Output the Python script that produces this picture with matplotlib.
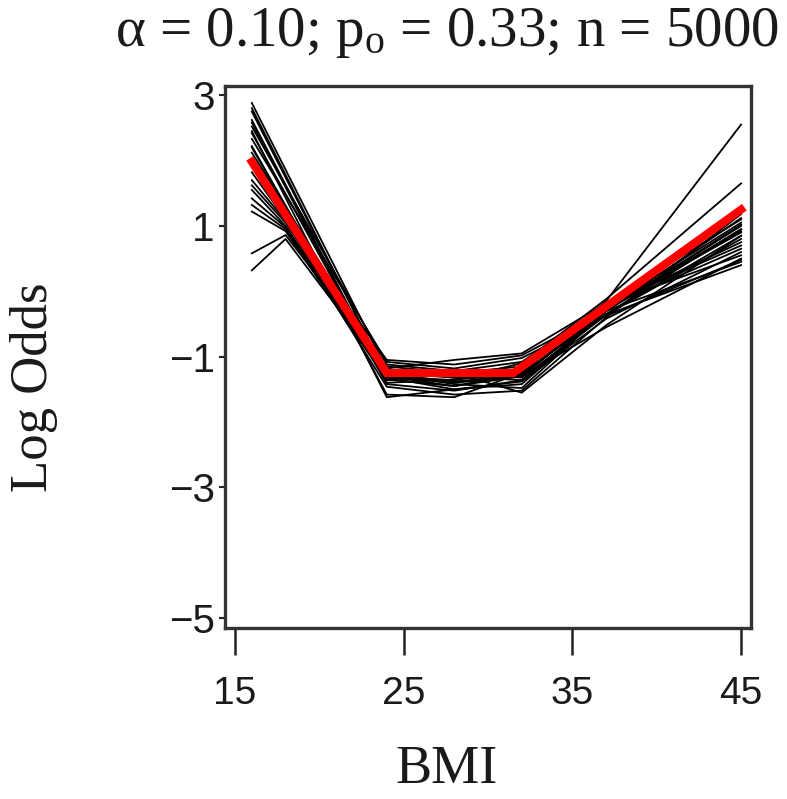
import matplotlib
matplotlib.use('Agg')
import matplotlib.pyplot as plt

# ---------------- data ----------------
knots = [16, 18, 24, 28, 32, 37, 45]

sim_curves = [
    [2.88, 1.86, -1.20, -1.30, -1.20, -0.35, 0.85],
    [2.75, 1.74, -1.28, -1.38, -1.28, -0.30, 0.95],
    [2.62, 1.63, -1.35, -1.45, -1.30, -0.25, 1.05],
    [2.52, 1.61, -1.12, -1.22, -1.08, -0.22, 0.75],
    [2.42, 1.49, -1.32, -1.50, -1.38, -0.42, 0.60],
    [2.33, 1.48, -1.08, -1.18, -1.02, -0.38, 0.48],
    [2.22, 1.31, -1.42, -1.52, -1.36, -0.30, 1.12],
    [2.12, 1.29, -1.22, -1.32, -1.22, -0.26, 0.90],
    [2.02, 1.20, -1.36, -1.26, -1.32, -0.36, 0.80],
    [1.92, 1.16, -1.26, -1.42, -1.48, -0.30, 1.00],
    [1.82, 1.10, -1.30, -1.36, -1.20, -0.20, 0.70],
    [1.70, 1.08, -1.05, -1.12, -0.98, -0.30, 0.45],
    [1.55, 1.00, -1.46, -1.58, -1.52, -0.40, 1.18],
    [1.42, 0.98, -1.22, -1.30, -1.36, -0.36, 0.40],
    [1.32, 0.95, -1.30, -1.40, -1.30, -0.25, 0.65],
    [1.22, 0.92, -1.36, -1.25, -1.55, -0.52, 0.85],
    [0.58, 0.86, -1.15, -1.25, -1.15, -0.20, 0.55],
    [0.32, 0.80, -1.25, -1.32, -1.20, -0.25, 0.92],
    [2.80, 1.78, -1.30, -1.45, -1.25, -0.15, 2.55],
    [2.58, 1.59, -1.40, -1.35, -1.10, -0.12, 1.65],
    [2.20, 1.30, -1.58, -1.62, -1.25, -0.35, 0.95],
    [1.62, 1.05, -1.30, -1.25, -1.30, -0.55, 0.50],
    [2.45, 1.43, -1.62, -1.50, -1.42, -0.30, 1.02],
    [1.98, 1.19, -1.18, -1.05, -0.95, -0.18, 1.10],
]

true_x = [16, 24, 31.5, 45]
true_y = [1.98, -1.25, -1.25, 1.25]

x_ticks = [15, 25, 35, 45]
y_ticks = [3, 1, -1, -3, -5]

title_text = 'α = 0.10; $\\mathrm{p_o}$ = 0.33; n = 5000'
x_label = 'BMI'
y_label = 'Log Odds'

# ---------------- style ----------------
plt.rcParams['mathtext.fontset'] = 'custom'
plt.rcParams['mathtext.rm'] = 'Liberation Serif'
plt.rcParams['mathtext.it'] = 'Liberation Serif:italic'
plt.rcParams['axes.unicode_minus'] = True

txt_col = '#1a1a1a'
fig = plt.figure(figsize=(7.87, 7.99), dpi=100)
ax = fig.add_axes([0.2859, 0.2140, 0.6684, 0.6784])

for ys in sim_curves:
    ax.plot(knots, ys, color='black', lw=1.3, zorder=2)
ax.plot(true_x, true_y, color='#ff0000', lw=5.8, zorder=3, solid_joinstyle='miter')

ax.set_xlim(14.41, 45.59)
ax.set_ylim(-5.15, 3.14)
ax.set_xticks(x_ticks)
ax.set_yticks(y_ticks)
ax.set_xticklabels([str(v) for v in x_ticks], family='Liberation Sans', fontsize=28, color=txt_col)
ax.set_yticklabels([str(v).replace('-', '\u2212') for v in y_ticks], family='Liberation Sans', fontsize=29, color=txt_col)

ax.tick_params(axis='x', length=19.5, width=1.8, pad=15, direction='out', color='#222222')
ax.tick_params(axis='y', length=4.5, width=1.5, pad=3, direction='out', color='#222222')

for sp in ax.spines.values():
    sp.set_color('#333333')
    sp.set_linewidth(2.4)

fig.text(0.568, 0.959, title_text, family='Liberation Serif', fontsize=41,
         ha='center', va='center', color=txt_col)
fig.text(0.043, 0.515, y_label, family='Liberation Serif', fontsize=38,
         rotation=90, ha='center', va='center', color=txt_col)
fig.text(0.568, 0.036, x_label, family='Liberation Serif', fontsize=39,
         ha='center', va='center', color=txt_col)

fig.savefig('out.png', dpi=100)
